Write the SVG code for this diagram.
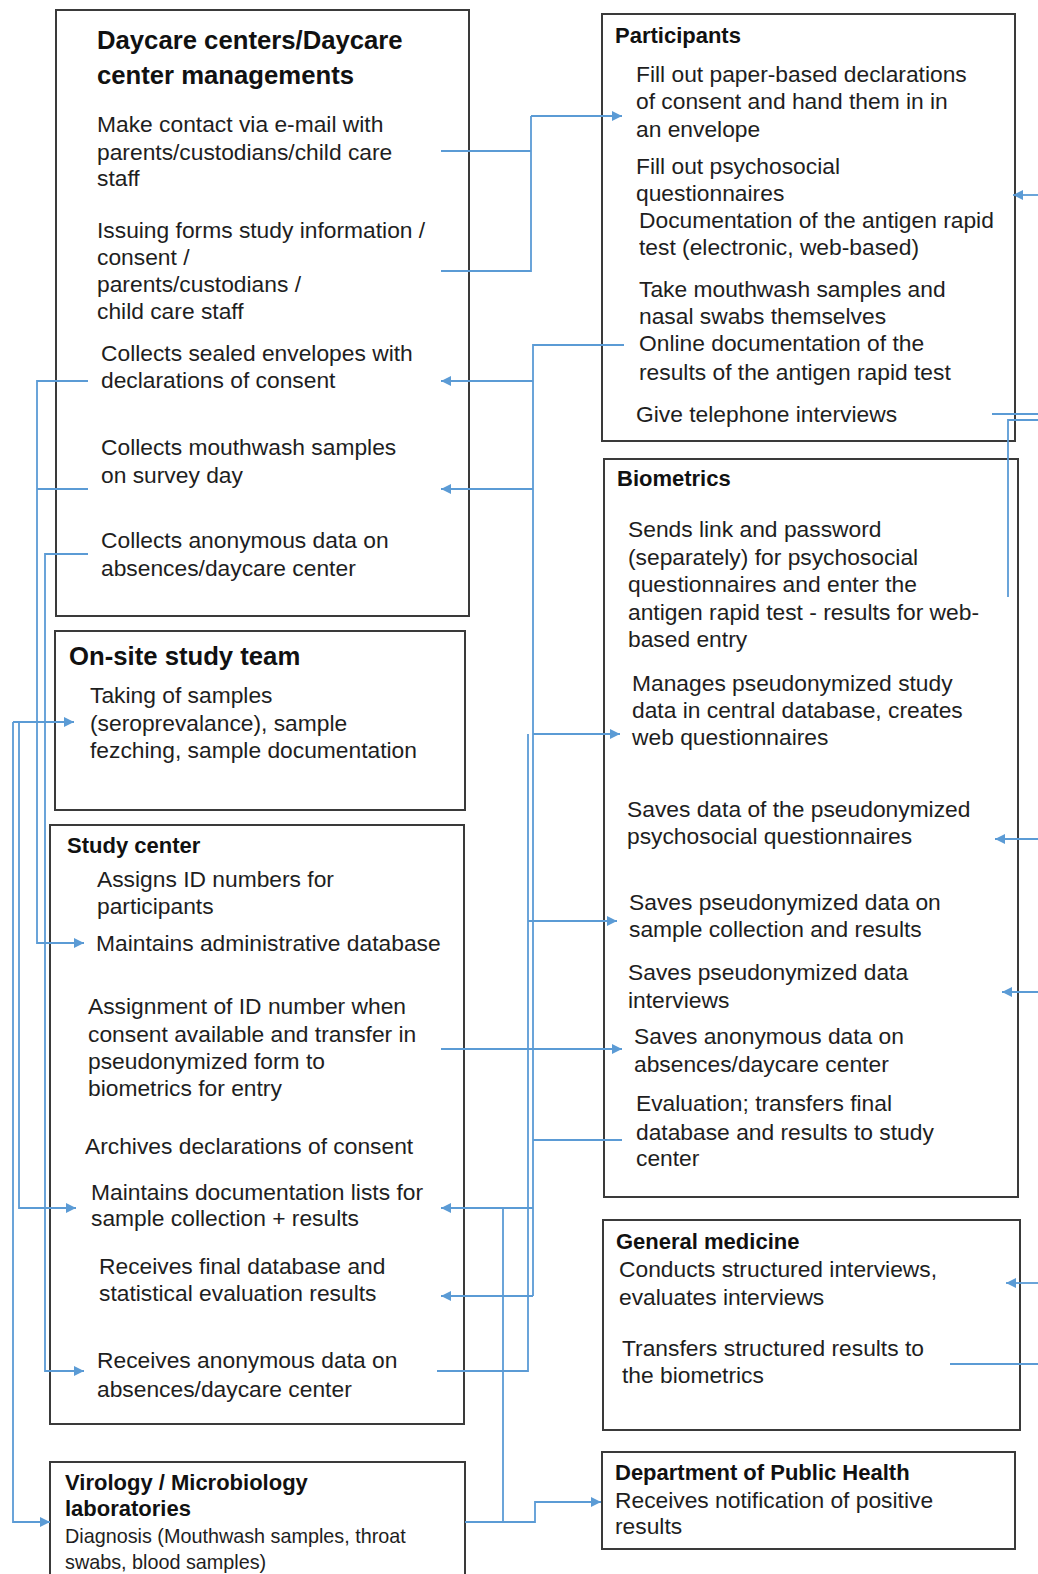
<svg xmlns="http://www.w3.org/2000/svg" width="1038" height="1574" viewBox="0 0 1038 1574">
<style>
  .box{fill:#fff;stroke:#3a3a3a;stroke-width:2}
  .t{font-family:"Liberation Sans",Arial,sans-serif;font-size:22.8px;fill:#1e1e1e}
  .s{font-family:"Liberation Sans",Arial,sans-serif;font-size:19.8px;fill:#1e1e1e}
  .h{font-family:"Liberation Sans",Arial,sans-serif;font-size:22px;font-weight:bold;fill:#111}
  .H{font-family:"Liberation Sans",Arial,sans-serif;font-size:25.7px;font-weight:bold;fill:#111}
  .c{fill:none;stroke:#5b9bd5;stroke-width:1.8}
</style>
<defs>
  <marker id="ah" viewBox="0 0 10 10" refX="10" refY="5" markerWidth="13" markerHeight="10" markerUnits="userSpaceOnUse" orient="auto">
    <path d="M0,0 L10,5 L0,10 z" fill="#5b9bd5"/>
  </marker>
</defs>
<rect width="1038" height="1574" fill="#fff"/>

<g id="daycare">
  <rect class="box" x="56" y="10" width="413" height="606"/>
  <text class="H" x="97" y="49">Daycare centers/Daycare</text>
  <text class="H" x="97" y="84">center managements</text>
  <text class="t" x="97" y="132">Make contact via e-mail with</text>
  <text class="t" x="97" y="160">parents/custodians/child care</text>
  <text class="t" x="97" y="186">staff</text>
  <text class="t" x="97" y="238">Issuing forms study information /</text>
  <text class="t" x="97" y="265">consent /</text>
  <text class="t" x="97" y="292">parents/custodians /</text>
  <text class="t" x="97" y="319">child care staff</text>
  <text class="t" x="101" y="361">Collects sealed envelopes with</text>
  <text class="t" x="101" y="388">declarations of consent</text>
  <text class="t" x="101" y="455">Collects mouthwash samples</text>
  <text class="t" x="101" y="483">on survey day</text>
  <text class="t" x="101" y="548">Collects anonymous data on</text>
  <text class="t" x="101" y="576">absences/daycare center</text>
</g>

<g id="onsite">
  <rect class="box" x="55" y="631" width="410" height="179"/>
  <text class="H" x="69" y="665">On-site study team</text>
  <text class="t" x="90" y="703">Taking of samples</text>
  <text class="t" x="90" y="731">(seroprevalance), sample</text>
  <text class="t" x="90" y="758">fezching, sample documentation</text>
</g>

<g id="studycenter">
  <rect class="box" x="50" y="825" width="414" height="599"/>
  <text class="h" x="67" y="853">Study center</text>
  <text class="t" x="97" y="887">Assigns ID numbers for</text>
  <text class="t" x="97" y="914">participants</text>
  <text class="t" x="96" y="951">Maintains administrative database</text>
  <text class="t" x="88" y="1014">Assignment of ID number when</text>
  <text class="t" x="88" y="1042">consent available and transfer in</text>
  <text class="t" x="88" y="1069">pseudonymized form to</text>
  <text class="t" x="88" y="1096">biometrics for entry</text>
  <text class="t" x="85" y="1154">Archives declarations of consent</text>
  <text class="t" x="91" y="1200">Maintains documentation lists for</text>
  <text class="t" x="91" y="1226">sample collection + results</text>
  <text class="t" x="99" y="1274">Receives final database and</text>
  <text class="t" x="99" y="1301">statistical evaluation results</text>
  <text class="t" x="97" y="1368">Receives anonymous data on</text>
  <text class="t" x="97" y="1397">absences/daycare center</text>
</g>

<g id="virology">
  <rect class="box" x="50" y="1462" width="415" height="130"/>
  <text class="h" x="65" y="1490">Virology / Microbiology</text>
  <text class="h" x="65" y="1516">laboratories</text>
  <text class="s" x="65" y="1543">Diagnosis (Mouthwash samples, throat</text>
  <text class="s" x="65" y="1569">swabs, blood samples)</text>
</g>

<g id="participants">
  <rect class="box" x="602" y="14" width="413" height="427"/>
  <text class="h" x="615" y="43">Participants</text>
  <text class="t" x="636" y="82">Fill out paper-based declarations</text>
  <text class="t" x="636" y="109">of consent and hand them in in</text>
  <text class="t" x="636" y="137">an envelope</text>
  <text class="t" x="636" y="174">Fill out psychosocial</text>
  <text class="t" x="636" y="201">questionnaires</text>
  <text class="t" x="639" y="228">Documentation of the antigen rapid</text>
  <text class="t" x="639" y="255">test (electronic, web-based)</text>
  <text class="t" x="639" y="297">Take mouthwash samples and</text>
  <text class="t" x="639" y="324">nasal swabs themselves</text>
  <text class="t" x="639" y="351">Online documentation of the</text>
  <text class="t" x="639" y="380">results of the antigen rapid test</text>
  <text class="t" x="636" y="422">Give telephone interviews</text>
</g>

<g id="biometrics">
  <rect class="box" x="604" y="459" width="414" height="738"/>
  <text class="h" x="617" y="486">Biometrics</text>
  <text class="t" x="628" y="537">Sends link and password</text>
  <text class="t" x="628" y="565">(separately) for psychosocial</text>
  <text class="t" x="628" y="592">questionnaires and enter the</text>
  <text class="t" x="628" y="620">antigen rapid test - results for web-</text>
  <text class="t" x="628" y="647">based entry</text>
  <text class="t" x="632" y="691">Manages pseudonymized study</text>
  <text class="t" x="632" y="718">data in central database, creates</text>
  <text class="t" x="632" y="745">web questionnaires</text>
  <text class="t" x="627" y="817">Saves data of the pseudonymized</text>
  <text class="t" x="627" y="844">psychosocial questionnaires</text>
  <text class="t" x="629" y="910">Saves pseudonymized data on</text>
  <text class="t" x="629" y="937">sample collection and results</text>
  <text class="t" x="628" y="980">Saves pseudonymized data</text>
  <text class="t" x="628" y="1008">interviews</text>
  <text class="t" x="634" y="1044">Saves anonymous data on</text>
  <text class="t" x="634" y="1072">absences/daycare center</text>
  <text class="t" x="636" y="1111">Evaluation; transfers final</text>
  <text class="t" x="636" y="1140">database and results to study</text>
  <text class="t" x="636" y="1166">center</text>
</g>

<g id="generalmedicine">
  <rect class="box" x="603" y="1220" width="417" height="210"/>
  <text class="h" x="616" y="1249">General medicine</text>
  <text class="t" x="619" y="1277">Conducts structured interviews,</text>
  <text class="t" x="619" y="1305">evaluates interviews</text>
  <text class="t" x="622" y="1356">Transfers structured results to</text>
  <text class="t" x="622" y="1383">the biometrics</text>
</g>

<g id="publichealth">
  <rect class="box" x="602" y="1452" width="413" height="97"/>
  <text class="h" x="615" y="1480">Department of Public Health</text>
  <text class="t" x="615" y="1508">Receives notification of positive</text>
  <text class="t" x="615" y="1534">results</text>
</g>

<g id="connectors">
  <path class="c" d="M441 151 H531 M441 271 H531 V116"/>
  <path class="c" d="M531 116 H622" marker-end="url(#ah)"/>
  <path class="c" d="M624 345 H533 V1296"/>
  <path class="c" d="M533 381 H441" marker-end="url(#ah)"/>
  <path class="c" d="M533 489 H441" marker-end="url(#ah)"/>
  <path class="c" d="M533 734 H620" marker-end="url(#ah)"/>
  <path class="c" d="M528 921 H617" marker-end="url(#ah)"/>
  <path class="c" d="M622 1140 H533"/>
  <path class="c" d="M533 1208 H441" marker-end="url(#ah)"/>
  <path class="c" d="M533 1296 H441" marker-end="url(#ah)"/>
  <path class="c" d="M437 1371 H528 V734"/>
  <path class="c" d="M441 1049 H622" marker-end="url(#ah)"/>
  <path class="c" d="M503 1208 V1522"/>
  <path class="c" d="M465 1522 H535 V1502 H601" marker-end="url(#ah)"/>
  <path class="c" d="M88 489 H37"/>
  <path class="c" d="M88 381 H37 V943 H84" marker-end="url(#ah)"/>
  <path class="c" d="M88 554 H45 V1371 H84" marker-end="url(#ah)"/>
  <path class="c" d="M13 722 H74" marker-end="url(#ah)"/>
  <path class="c" d="M13 722 V1522 H50" marker-end="url(#ah)"/>
  <path class="c" d="M19 722 V1208 H76" marker-end="url(#ah)"/>
  <path class="c" d="M1038 195 H1013" marker-end="url(#ah)"/>
  <path class="c" d="M992 414 H1038"/>
  <path class="c" d="M1038 420 H1008 V597"/>
  <path class="c" d="M1038 839 H995" marker-end="url(#ah)"/>
  <path class="c" d="M1038 992 H1002" marker-end="url(#ah)"/>
  <path class="c" d="M1038 1283 H1006" marker-end="url(#ah)"/>
  <path class="c" d="M950 1364 H1038"/>
</g>
</svg>
